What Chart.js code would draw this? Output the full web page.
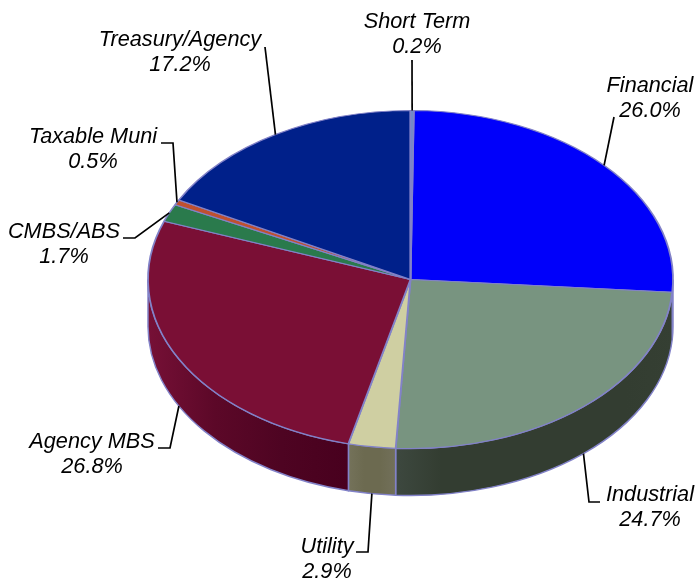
<!DOCTYPE html>
<html>
<head>
<meta charset="utf-8">
<script src="https://cdn.jsdelivr.net/npm/chart.js@4/dist/chart.umd.min.js"></script>
<style>html,body{margin:0;padding:0;background:#fff}canvas{display:block;filter:blur(0.4px)}</style>
</head>
<body>
<canvas id="c" width="698" height="578"></canvas>
<script>
const categories = ["Financial","Industrial","Utility","Agency MBS","CMBS/ABS","Taxable Muni","Treasury/Agency","Short Term"];
const shares = [26.0,24.7,2.9,26.8,1.7,0.5,17.2,0.2];
const topColors = ["#0000fa","#789480","#cfcfa2","#7a0f35","#2a7a4c","#bf5030","#00208a","#6c8cc8"];
// wall shading, left to right across each visible side face
const wallStops = [
  ["#00009a","#00009a"],
  ["#3d483f","#333d31","#333d31","#333d31","#333d31","#333d31","#353f33"],
  ["#74725a","#6c6a50","#6c6a50","#72705a"],
  ["#761036","#5c0828","#4e0422","#48001e"],
  ["#1c5030","#1c5030"],
  ["#7a3020","#7a3020"],
  ["#001560","#001560"],
  ["#40587c","#40587c"]
];
// label layout: [centre x, first baseline, elbow points of the leader line]
const labelLayout = [
  {x:650,y:92, line:[[614,117]]},
  {x:650,y:501,line:[[600,502],[589,502]]},
  {x:327,y:553,line:[[356,552],[368,552]]},
  {x:92, y:448,line:[[158,448],[170,448]]},
  {x:64, y:238,line:[[123,238],[135,238]]},
  {x:93, y:143,line:[[161,143],[173,143]]},
  {x:180,y:46, line:[[265,47]]},
  {x:417,y:28, line:[[412,60]]}
];
const depth = 47, squash = 169/262.5, edge = "#8282c8", lineGap = 25;

const tilt = {
  id:"tilt",
  beforeDatasetsDraw(chart){
    const ctx = chart.ctx, arcs = chart.getDatasetMeta(0).data;
    const {x:cx,y:cy,outerRadius:rx} = arcs[0], ry = rx*squash;
    arcs.forEach((arc,i)=>{
      const a0 = Math.max(arc.startAngle,0), a1 = Math.min(arc.endAngle,Math.PI);
      if(a0>=a1) return;
      const xa = cx+rx*Math.cos(a0), xb = cx+rx*Math.cos(a1);
      const g = ctx.createLinearGradient(Math.min(xa,xb),0,Math.max(xa,xb),0);
      wallStops[i].forEach((c,k,all)=>g.addColorStop(k/(all.length-1),c));
      ctx.beginPath();
      ctx.ellipse(cx,cy,rx,ry,0,a0,a1);
      ctx.ellipse(cx,cy+depth,rx,ry,0,a1,a0,true);
      ctx.closePath();
      ctx.fillStyle = g; ctx.fill();
      ctx.strokeStyle = edge; ctx.lineWidth = 1.5; ctx.stroke();
    });
    ctx.save();
    ctx.translate(0,cy); ctx.scale(1,squash); ctx.translate(0,-cy);
  },
  afterDatasetsDraw(chart){
    const ctx = chart.ctx; ctx.restore();
    const arcs = chart.getDatasetMeta(0).data;
    const {x:cx,y:cy,outerRadius:rx} = arcs[0], ry = rx*squash;
    ctx.save();
    arcs.forEach((arc,i)=>{
      const L = labelLayout[i], mid = (arc.startAngle+arc.endAngle)/2;
      const s = Math.sin(mid), ex = cx+rx*Math.cos(mid), ey = cy+ry*s+(s>0?depth:0);
      ctx.beginPath();
      L.line.forEach((p,k)=>k?ctx.lineTo(p[0],p[1]):ctx.moveTo(p[0],p[1]));
      ctx.lineTo(ex,ey);
      ctx.strokeStyle="#000"; ctx.lineWidth=1.7; ctx.stroke();
      ctx.fillStyle="#000"; ctx.textAlign="center"; ctx.textBaseline="alphabetic";
      ctx.font="italic 21.7px 'Liberation Sans'";
      ctx.fillText(categories[i],L.x,L.y);
      ctx.fillText(shares[i].toFixed(1)+"%",L.x,L.y+lineGap);
    });
    ctx.restore();
  }
};

new Chart(document.getElementById("c"),{
  type:"pie",
  data:{labels:categories,datasets:[{data:shares,backgroundColor:topColors,borderColor:edge,borderWidth:1.8,radius:262.5,clip:false,rotation:0.72}]},
  options:{
    responsive:false,animation:false,
    layout:{padding:{left:123,bottom:19,top:0,right:0}},
    plugins:{legend:{display:false},tooltip:{enabled:false}},
    events:[]
  },
  plugins:[tilt]
});
</script>
</body>
</html>
